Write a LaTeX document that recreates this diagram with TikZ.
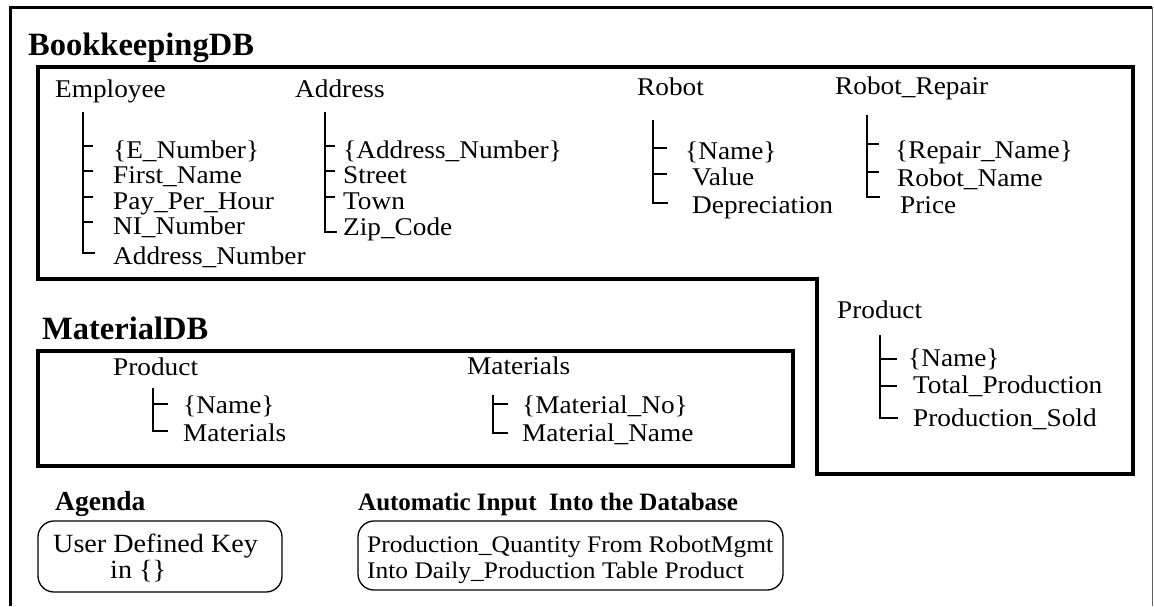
\documentclass[tikz,border=0pt]{standalone}
\usepackage{fontspec}
\setmainfont{Liberation Serif}
\newfontfamily\rgfont{Liberation Serif}[FakeStretch=1.07]
\usetikzlibrary{calc}
\begin{document}
\begin{tikzpicture}[x=1pt,y=-1pt,
  txt/.style={anchor=base west, inner sep=0pt, font=\rgfont\fontsize{25.5}{26}\selectfont},
  boxtxt/.style={anchor=base west, inner sep=0pt, font=\rgfont\fontsize{23.8}{26}\selectfont},
  head/.style={anchor=base west, inner sep=0pt, font=\bfseries\fontsize{32.5}{34}\selectfont},
  subhead/.style={anchor=base west, inner sep=0pt, font=\bfseries\fontsize{25}{28}\selectfont},
  tree/.style={line width=1.3pt},
  dbbox/.style={line width=3.5pt, line join=miter},
  keybox/.style={line width=1.3pt, rounded corners=16pt}]
\useasboundingbox (0,0) rectangle (1154,606);
% outer frame
\draw[line width=3pt] (10,606) -- (10,7) -- (1152,7);
\draw[line width=1pt, black!60] (1152,7) -- (1152,606);
% BookkeepingDB
\node[head] (bk) at (28,55) {BookkeepingDB};
\draw[dbbox] (38,67) -- (1133,67) -- (1133,474) -- (817,474) -- (817,279) -- (38,279) -- cycle;
% Employee
\node[txt] (emp) at (55,97) {Employee};
\node[txt] (e1) at (113,158) {\{E\_Number\}};
\node[txt] (e2) at (113,183) {First\_Name};
\node[txt] (e3) at (113,209) {Pay\_Per\_Hour};
\node[txt] (e4) at (113,234) {NI\_Number};
\node[txt] (e5) at (113,264) {Address\_Number};
\coordinate (et) at (83,112);
\foreach \n in {e1,e2,e3,e4} \draw[tree] (et |- \n.base) ++(0,-12) -- ++(10,0);
\draw[tree] (et) -- ($(et |- e5.base)+(0,-11)$) -- ++(12,0);
% Address
\node[txt] (adr) at (295,97) {Address};
\node[txt] (a1) at (343,158) {\{Address\_Number\}};
\node[txt] (a2) at (343,183) {Street};
\node[txt] (a3) at (343,209) {Town};
\node[txt] (a4) at (343,235) {Zip\_Code};
\coordinate (at) at (325,112);
\foreach \n in {a1,a2,a3} \draw[tree] (at |- \n.base) ++(0,-12) -- ++(10,0);
\draw[tree] (at) -- ($(at |- a4.base)+(0,-3)$) -- ++(12,0);
% Robot
\node[txt] (rob) at (637,95) {Robot};
\node[txt] (r1) at (685,159) {\{Name\}};
\node[txt] (r2) at (692,185) {Value};
\node[txt] (r3) at (692,213) {Depreciation};
\coordinate (rt) at (653,120);
\foreach \n in {r1,r2} \draw[tree] (rt |- \n.base) ++(0,-11) -- ++(14,0);
\draw[tree] (rt) -- ($(rt |- r3.base)+(0,-10)$) -- ++(15,0);
% Robot_Repair
\node[txt] (rr) at (835,94) {Robot\_Repair};
\node[txt] (q1) at (895,158) {\{Repair\_Name\}};
\node[txt] (q2) at (897,186) {Robot\_Name};
\node[txt] (q3) at (900,213) {Price};
\coordinate (qt) at (867,115);
\foreach \n in {q1,q2} \draw[tree] (qt |- \n.base) ++(0,-14) -- ++(12,0);
\draw[tree] (qt) -- ($(qt |- q3.base)+(0,-16)$) -- ++(13,0);
% Product (Bookkeeping)
\node[txt] (pb) at (837,318) {Product};
\node[txt] (p1) at (908,366) {\{Name\}};
\node[txt] (p2) at (913,393) {Total\_Production};
\node[txt] (p3) at (913,426) {Production\_Sold};
\coordinate (pt) at (880,335);
\foreach \n in {p1,p2} \draw[tree] (pt |- \n.base) ++(0,-7) -- ++(17,0);
\draw[tree] (pt) -- ($(pt |- p3.base)+(0,-8)$) -- ++(18,0);
% MaterialDB
\node[head] (md) at (42,339) {MaterialDB};
\draw[dbbox] (38,351) rectangle (793,466);
\node[txt] (mp) at (113,375) {Product};
\node[txt] (m1) at (183,413) {\{Name\}};
\node[txt] (m2) at (183,441) {Materials};
\coordinate (mt) at (153,388);
\draw[tree] (mt |- m1.base) ++(0,-9) -- ++(15,0);
\draw[tree] (mt) -- ($(mt |- m2.base)+(0,-10)$) -- ++(15,0);
\node[txt] (mm) at (467,374) {Materials};
\node[txt] (n1) at (522,413) {\{Material\_No\}};
\node[txt] (n2) at (522,441) {Material\_Name};
\coordinate (nt) at (493,395);
\draw[tree] (nt |- n1.base) ++(0,-9) -- ++(15,0);
\draw[tree] (nt) -- ($(nt |- n2.base)+(0,-8)$) -- ++(15,0);
% Agenda
\node[subhead, font=\bfseries\fontsize{27.5}{28}\selectfont] (ag) at (55,510) {Agenda};
\draw[keybox] (38,521) rectangle (282,592);
\node[txt, font=\rgfont\fontsize{26.3}{28}\selectfont] (g1) at (53,552) {User Defined Key};
\node[txt, font=\rgfont\fontsize{26.3}{28}\selectfont] (g2) at (110,578) {in \{\}};
% Automatic input
\node[subhead] (au) at (358,510) {Automatic Input\ \ Into the Database};
\draw[keybox] (358,521) rectangle (783,590);
\node[boxtxt] (u1) at (367,552) {Production\_Quantity From RobotMgmt};
\node[boxtxt] (u2) at (367,578) {Into Daily\_Production Table Product};
\end{tikzpicture}
\end{document}
